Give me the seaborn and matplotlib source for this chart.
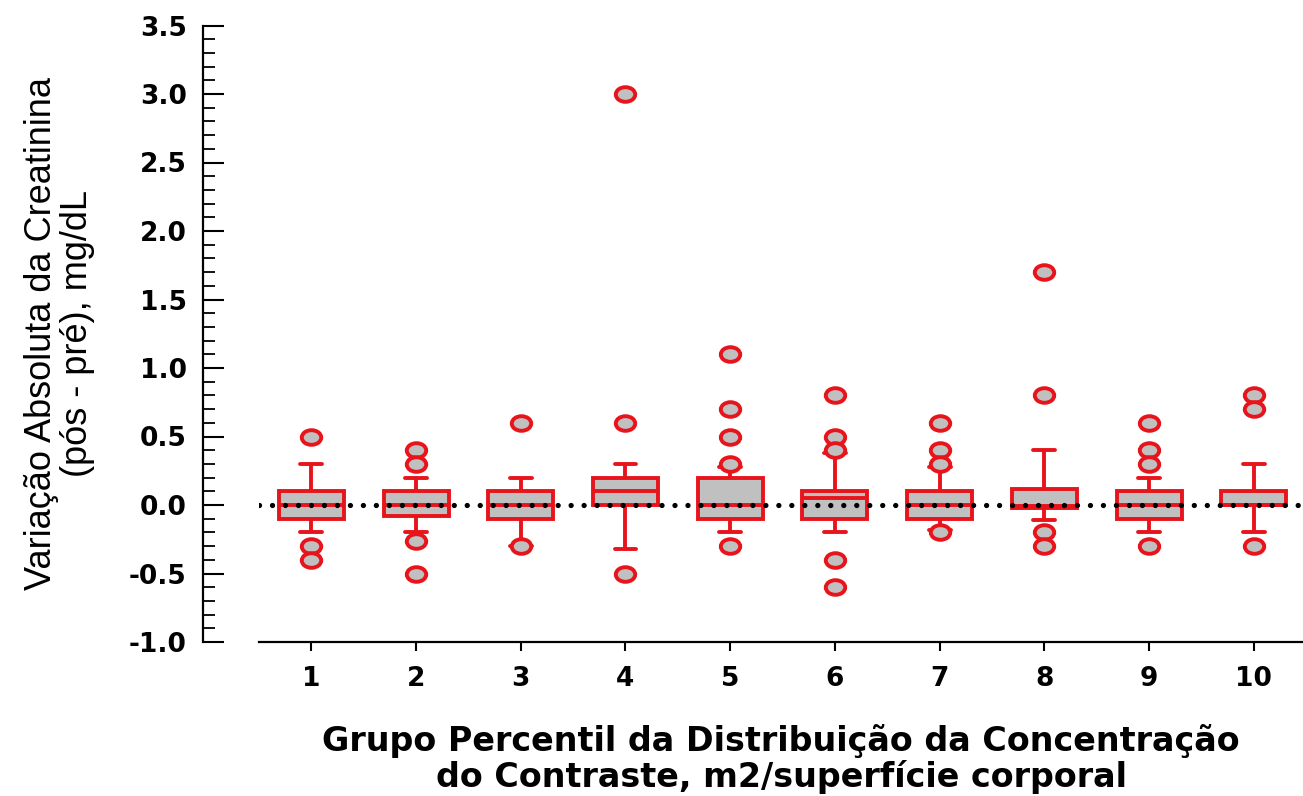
import numpy as np
import pandas as pd
import matplotlib
matplotlib.use("Agg")
import matplotlib.pyplot as plt
from matplotlib.path import Path
from matplotlib.transforms import Affine2D
from matplotlib.ticker import MultipleLocator
import seaborn as sns

# Box summary per percentile group
groups = ['1', '2', '3', '4', '5', '6', '7', '8', '9', '10']
whisker_low = [-0.20, -0.20, -0.30, -0.32, -0.20, -0.20, -0.18, -0.11, -0.20, -0.20]
q1 = [-0.10, -0.08, -0.10, 0.00, -0.10, -0.10, -0.10, -0.02, -0.10, 0.00]
median = [0.00, 0.00, 0.00, 0.10, 0.00, 0.05, 0.00, -0.01, 0.00, 0.00]
q3 = [0.10, 0.10, 0.10, 0.20, 0.20, 0.10, 0.10, 0.12, 0.10, 0.10]
whisker_high = [0.30, 0.20, 0.20, 0.30, 0.28, 0.38, 0.28, 0.40, 0.20, 0.30]

# Points beyond the whiskers
outliers = [
    [0.5, -0.3, -0.4],
    [0.4, 0.3, -0.26, -0.5],
    [0.6, -0.3],
    [3.0, 0.6, -0.5],
    [1.1, 0.7, 0.5, 0.3, -0.3],
    [0.8, 0.5, 0.4, -0.4, -0.6],
    [0.6, 0.4, 0.3, -0.2],
    [1.7, 0.8, -0.2, -0.3],
    [0.6, 0.4, 0.3, -0.3],
    [0.8, 0.7, -0.3],
]

red = '#e8141b'
gray = '#c0c0c0'

# five-number table -> whis=(0, 100) puts whiskers at min / max
box_rows = []
for i, g in enumerate(groups):
    for v in (whisker_low[i], q1[i], median[i], q3[i], whisker_high[i]):
        box_rows.append({'grupo': g, 'valor': v})
df_box = pd.DataFrame(box_rows)

out_rows = [{'grupo': g, 'valor': v} for g, vals in zip(groups, outliers) for v in vals]
df_out = pd.DataFrame(out_rows)

sns.set_theme(style='ticks')
plt.rcParams['font.family'] = ['DejaVu Sans']
plt.rcParams['text.color'] = 'black'
plt.rcParams['axes.labelcolor'] = 'black'
plt.rcParams['xtick.color'] = 'black'
plt.rcParams['ytick.color'] = 'black'

fig = plt.figure(figsize=(13.03, 7.96), dpi=100)
ax = fig.add_axes([259 / 1303, 1 - 642 / 796, 1044 / 1303, (642 - 25.5) / 796])

sns.boxplot(data=df_box, x='grupo', y='valor', order=groups, ax=ax,
            whis=(0, 100), showfliers=False, width=0.62, saturation=1,
            color=gray, linecolor=red, linewidth=2.8, capwidths=0.21)

# elliptical marker, like the stretched circles of the original
ellipse = Path.unit_circle().transformed(Affine2D().scale(1.33, 1.0))
sns.stripplot(data=df_out, x='grupo', y='valor', order=groups, ax=ax,
              jitter=False, marker=ellipse, size=14, color=gray,
              edgecolor=red, linewidth=2.8, zorder=4)

ax.axhline(0, color='black', lw=3.8, linestyle=(0, (0.01, 2.45)),
           dash_capstyle='round', zorder=6)

ax.set_xlim(-0.5, 9.47)
ax.set_ylim(-1.0, 3.5)
ax.yaxis.set_major_locator(MultipleLocator(0.5))
ax.yaxis.set_minor_locator(MultipleLocator(0.1))
ax.set_yticklabels([f'{v:.1f}' for v in ax.get_yticks()])

ax.spines['top'].set_visible(False)
ax.spines['right'].set_visible(False)
ax.spines['left'].set_position(('outward', 40))
for s in ('left', 'bottom'):
    ax.spines[s].set_linewidth(1.6)
    ax.spines[s].set_color('black')

ax.tick_params(axis='y', which='major', direction='in', length=15, width=1.5,
               pad=12, labelsize=19)
ax.tick_params(axis='y', which='minor', direction='in', length=8.5, width=1.3)
ax.tick_params(axis='x', which='major', direction='out', length=6.5, width=1.5,
               pad=11, labelsize=19)
for lab in ax.get_xticklabels() + ax.get_yticklabels():
    lab.set_fontweight('bold')

ax.set_xlabel('Grupo Percentil da Distribuição da Concentração\ndo Contraste, m2/superfície corporal',
              fontsize=24, fontweight='bold', labelpad=23, linespacing=1.05)
ax.set_ylabel('Variação Absoluta da Creatinina\n(pós - pré), mg/dL',
              fontsize=26, family=['Liberation Sans Narrow', 'Liberation Sans'],
              linespacing=1.05)
ax.yaxis.set_label_coords(-0.157, 0.5)

fig.savefig('out.png', dpi=100, facecolor='white')
